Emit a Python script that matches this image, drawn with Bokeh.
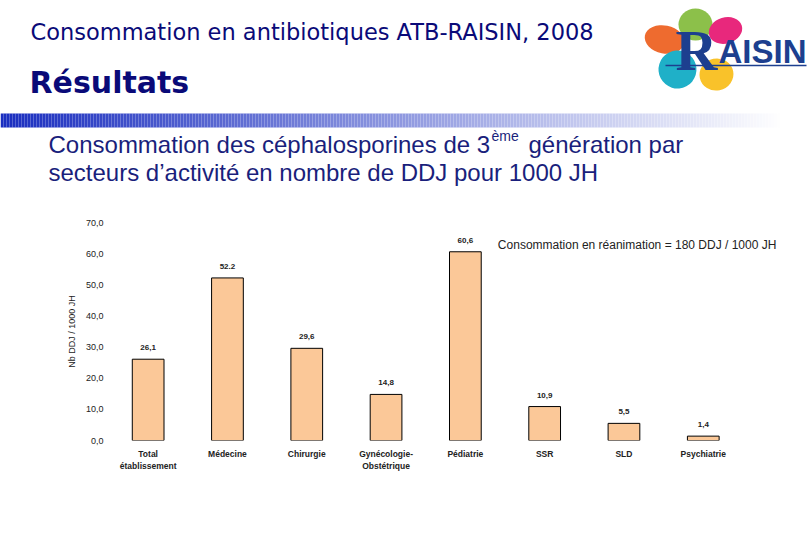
import numpy as np
from bokeh.plotting import figure
from bokeh.models import (ColumnDataSource, LabelSet, Label, Range1d,
                          CustomJSTickFormatter, FixedTicker)
from bokeh.core.properties import value
from bokeh.layouts import column
from bokeh.embed import file_html
from bokeh.resources import INLINE

# ---------------- data ----------------
categories = ["Total\nétablissement", "Médecine", "Chirurgie", "Gynécologie-\nObstétrique",
              "Pédiatrie", "SSR", "SLD", "Psychiatrie"]
values = [26.1, 52.2, 29.6, 14.8, 60.6, 10.9, 5.5, 1.4]
value_labels = ["26,1", "52.2", "29,6", "14,8", "60,6", "10,9", "5,5", "1,4"]
y_ticks = [0, 10, 20, 30, 40, 50, 60, 70]

TITLE_COL = "#0a0a78"
SUB_COL = "#1a1f7c"

# ---------------- header (slide title area) ----------------
h = figure(width=810, height=198, x_range=Range1d(0, 810), y_range=Range1d(198, 0),
           toolbar_location=None, output_backend="svg", min_border=0)
h.frame_align = False
h.axis.visible = False
h.grid.visible = False
h.outline_line_color = None

# gradient rule
gx = np.arange(0, 810, 3)
t = np.clip(gx / 780.0, 0, 1)
c0 = np.array([26, 46, 192])
cols = ["#%02x%02x%02x" % tuple((c0 + (255 - c0) * tt).astype(int)) for tt in t]
h.quad(left=gx, right=gx + 3, top=113, bottom=127, fill_color=cols, line_color=None)

h.add_layout(Label(x=30, y=31, text="Consommation en antibiotiques ATB-RAISIN, 2008",
                   text_font="DejaVu Sans", text_font_size="22.5px", text_color=TITLE_COL,
                   text_baseline="middle"))
h.add_layout(Label(x=29, y=82, text="Résultats", text_font="DejaVu Sans", text_font_style="bold",
                   text_font_size="30px", text_color=TITLE_COL, text_baseline="middle"))

# subtitle with superscript
h.add_layout(Label(x=48, y=144, text="Consommation des céphalosporines de 3", text_font="Liberation Sans",
                   text_font_size="24px", text_color=SUB_COL, text_baseline="middle"))
h.add_layout(Label(x=491, y=135, text="ème", text_font="Liberation Sans",
                   text_font_size="14px", text_color=SUB_COL, text_baseline="middle"))
h.add_layout(Label(x=528, y=144, text="génération par", text_font="Liberation Sans",
                   text_font_size="24px", text_color=SUB_COL, text_baseline="middle"))
h.add_layout(Label(x=48, y=172, text="secteurs d\u2019activité en nombre de DDJ pour 1000 JH",
                   text_font="Liberation Sans", text_font_size="24px", text_color=SUB_COL,
                   text_baseline="middle"))

# logo
petals_x = [664, 695, 725, 677, 716]
petals_y = [39, 24, 30, 69, 74]
petals_w = [40, 34, 34, 38, 34]
petals_h = [28, 32, 26, 38, 32]
petals_a = [-0.2, 0.0, 0.3, -0.3, 0.2]
petals_c = ["#ee6b2f", "#8cc04a", "#e8287c", "#1fb0c8", "#f9c22a"]
h.ellipse(x=petals_x, y=petals_y, width=petals_w, height=petals_h, angle=petals_a,
          fill_color=petals_c, line_color=None)
h.segment(x0=[665], y0=[65], x1=[806], y1=[65], line_color="#1d3f8f", line_width=1.5)
h.add_layout(Label(x=675, y=50, text="R", text_font="Liberation Serif", text_font_style="bold",
                   text_font_size="58px", text_color="#1d3f8f", text_baseline="middle"))
h.add_layout(Label(x=718, y=51, text="AISIN", text_font="Liberation Sans", text_font_style="bold",
                   text_font_size="33px", text_color="#1d3f8f", text_baseline="middle"))

# ---------------- chart ----------------
idx = list(range(len(categories)))
src = ColumnDataSource(dict(x=idx, val=values, lab=value_labels))

p = figure(width=810, height=342, x_range=Range1d(-0.5, 8.1), y_range=Range1d(0, 70),
           toolbar_location=None, output_backend="svg",
           min_border_left=108, min_border_right=20, min_border_top=24, min_border_bottom=100)
p.frame_align = False
p.outline_line_color = None
p.grid.visible = False

p.vbar(x="x", top="val", width=0.4, source=src, fill_color="#fbc898",
       line_color="black", line_width=1)

p.add_layout(LabelSet(x="x", y="val", text="lab", source=src, y_offset=9,
                      text_align="center", text_baseline="bottom", text_font=value("Liberation Sans"),
                      text_font_size=value("8px"), text_font_style="bold", text_color="#222222"))

p.yaxis.ticker = FixedTicker(ticks=y_ticks)
p.yaxis.formatter = CustomJSTickFormatter(code="return tick.toFixed(1).replace('.', ',');")
p.yaxis.axis_line_color = None
p.yaxis.major_tick_line_color = None
p.yaxis.major_tick_out = 0
p.yaxis.major_tick_in = 0
p.yaxis.minor_tick_line_color = None
p.yaxis.major_label_standoff = 5
p.yaxis.major_label_text_font = "Liberation Sans"
p.yaxis.major_label_text_font_size = "9px"
p.yaxis.major_label_text_color = "#222222"
p.yaxis.axis_label = "Nb DDJ / 1000 JH"
p.yaxis.axis_label_text_font = "Liberation Sans"
p.yaxis.axis_label_text_font_size = "9px"
p.yaxis.axis_label_text_font_style = "normal"
p.yaxis.axis_label_text_color = "#222222"
p.yaxis.axis_label_standoff = 6

p.xaxis.ticker = FixedTicker(ticks=idx)
p.xaxis.major_label_overrides = {i: c for i, c in zip(idx, categories)}
p.xaxis.axis_line_color = None
p.xaxis.major_tick_line_color = None
p.xaxis.major_tick_out = 0
p.xaxis.major_tick_in = 0
p.xaxis.minor_tick_line_color = None
p.xaxis.major_label_standoff = 8
p.xaxis.major_label_text_font = "Liberation Sans"
p.xaxis.major_label_text_font_size = "8.5px"
p.xaxis.major_label_text_font_style = "bold"
p.xaxis.major_label_text_color = "#222222"

p.add_layout(Label(x=4.41, y=62.8, text="Consommation en réanimation = 180 DDJ / 1000 JH",
                   text_font="Liberation Sans", text_font_size="12px", text_color="#222222",
                   text_baseline="middle"))

layout = column(h, p, spacing=0)
open("out.html", "w").write(file_html(layout, INLINE))
